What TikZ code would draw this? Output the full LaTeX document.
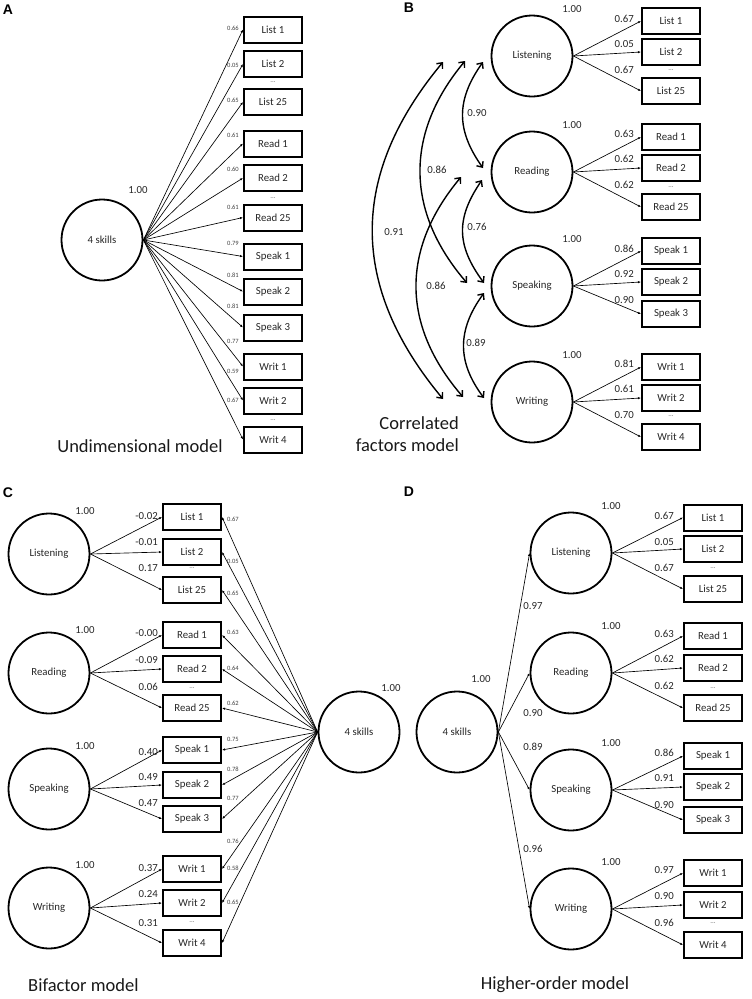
\documentclass[tikz,border=0pt]{standalone}
\usepackage{fontspec}
\setmainfont{Carlito}
\newfontfamily\panelfont{Liberation Sans}
\usetikzlibrary{arrows.meta}
\newcommand{\myfs}[1]{\fontsize{#1}{#1}\selectfont}
\begin{document}
\begin{tikzpicture}[x=1pt,y=-1pt,
 box/.style={draw, line width=2pt, minimum width=58pt, minimum height=26pt, inner sep=0pt, font=\myfs{10.8}, text=black!85},
 lat/.style={circle, draw, line width=1.8pt, minimum size=81pt, inner sep=0pt, font=\myfs{10.8}, text=black!85},
 ld/.style={-{Latex[length=3pt,width=2.4pt]}, line width=0.65pt},
 num/.style={font=\myfs{10.8}, inner sep=0pt, text=black!85},
 sm/.style={font=\myfs{6.5}, inner sep=0pt, text=black!75},
 dots/.style={font=\myfs{7}, inner sep=0pt, text=black!60},
 corr/.style={{Straight Barb[length=4.5pt,width=8pt]}-{Straight Barb[length=4.5pt,width=8pt]}, line width=1.4pt},
 title/.style={font=\fontsize{18.5}{22}\selectfont, inner sep=0pt, text=black!90},
 panel/.style={font=\panelfont\bfseries\myfs{14}, inner sep=0pt}]
\useasboundingbox (0,0) rectangle (752,999);

% ---------------- Panel A ----------------
\node[panel] (pA) at (8,10) {A};
\node[lat] (a4) at (102,240) {4 skills};
\node[num] (a4v) at (138,190) {1.00};
\foreach \n/\t/\y in {L1/List 1/29.5, L2/List 2/64, L25/List 25/102, R1/Read 1/143.5, R2/Read 2/178, R25/Read 25/217.5, S1/Speak 1/256.5, S2/Speak 2/291.5, S3/Speak 3/327.5, W1/Writ 1/366.5, W2/Writ 2/400.5, W4/Writ 4/439.5}
  \node[box] (a\n) at (273,\y) {\t};
\foreach \y [count=\i] in {82,198,420} \node[dots] (ad\i) at (273,\y) {...};
\foreach \n in {L1,L2,L25,R1,R2,R25,S1,S2,S3,W1,W2,W4}
  \draw[ld] (a4.east) -- (a\n.west);
\foreach \v/\y [count=\i] in {0.66/28,0.05/65,0.65/100,0.61/135,0.60/169,0.61/207,0.79/243,0.81/275,0.81/306,0.77/341,0.59/371,0.67/400}
  \node[sm] (al\i) at (233,\y) {\v};
\node[title] (tA) at (140,446) {Undimensional model};

% ---------------- Panel B ----------------
\node[panel] (pB) at (409,8) {B};
\foreach \n/\t/\y in {L/Listening/56, R/Reading/172, S/Speaking/286, W/Writing/402}{
  \node[lat] (b\n) at (532,\y) {\t};
  \node[num] (b\n v) at (572,\y-47) {1.00};
}
\foreach \f/\n/\t/\y in {L/L1/List 1/21, L/L2/List 2/52, L/L25/List 25/91, R/R1/Read 1/137, R/R2/Read 2/168, R/R25/Read 25/207, S/S1/Speak 1/251, S/S2/Speak 2/282, S/S3/Speak 3/314, W/W1/Writ 1/367, W/W2/Writ 2/398, W/W4/Writ 4/437}{
  \node[box] (b\n) at (671,\y) {\t};
  \draw[ld] (b\f.east) -- (b\n.west);
}
\foreach \y [count=\i] in {70,187,416} \node[dots] (bd\i) at (671,\y) {...};
\foreach \v/\y [count=\i] in {0.67/19,0.05/44,0.67/70,0.63/134,0.62/159,0.62/185,0.86/249,0.92/274,0.90/300,0.81/364,0.61/389,0.70/415}
  \node[num, anchor=east] (bl\i) at (634,\y) {\v};
% correlation end points
\coordinate (lw1) at (443,62);  \coordinate (lw2) at (443,399);
\coordinate (ls1) at (465,61);  \coordinate (ls2) at (467,283);
\coordinate (rw1) at (461,177); \coordinate (rw2) at (463,397);
\coordinate (lr1) at (483,62);  \coordinate (lr2) at (483,168);
\coordinate (rs1) at (482,180); \coordinate (rs2) at (484,283);
\coordinate (sw1) at (484,293); \coordinate (sw2) at (484,398);
\draw[corr] (lw1) .. controls (349,175) and (349,286) .. (lw2);
\draw[corr] (ls1) .. controls (405,133) and (405,211) .. (ls2);
\draw[corr] (rw1) .. controls (401,249) and (401,325) .. (rw2);
\draw[corr] (lr1) .. controls (456,100) and (456,130) .. (lr2);
\draw[corr] (rs1) .. controls (456,218) and (456,245) .. (rs2);
\draw[corr] (sw1) .. controls (457,330) and (457,362) .. (sw2);
\node[num] (c91) at (394,232) {0.91};
\node[num] (c86a) at (437,170) {0.86};
\node[num] (c86b) at (436,286) {0.86};
\node[num] (c90) at (477,113) {0.90};
\node[num] (c76) at (477,227) {0.76};
\node[num] (c89) at (476,343) {0.89};
\node[title, align=right, anchor=east] (tB) at (459,434) {Correlated\\factors model};

% ---------------- Panel C ----------------
\node[panel] (pC) at (8,493) {C};
\foreach \n/\t/\y in {L/Listening/554, R/Reading/673, S/Speaking/789, W/Writing/908}{
  \node[lat] (c\n) at (49,\y) {\t};
  \node[num] (c\n v) at (85,\y-43) {1.00};
}
\node[lat] (c4) at (359,732) {4 skills};
\node[num] (c4v) at (391,688) {1.00};
\foreach \f/\n/\t/\y in {L/L1/List 1/517, L/L2/List 2/552, L/L25/List 25/590, R/R1/Read 1/635, R/R2/Read 2/669, R/R25/Read 25/708, S/S1/Speak 1/750, S/S2/Speak 2/785, S/S3/Speak 3/819, W/W1/Writ 1/869, W/W2/Writ 2/903, W/W4/Writ 4/943}{
  \node[box] (c\n) at (192,\y) {\t};
  \draw[ld] (c\f.east) -- (c\n.west);
  \draw[ld] (c4.west) -- (c\n.east);
}
\foreach \y [count=\i] in {568,688,922} \node[dots] (cd\i) at (192,\y) {...};
\foreach \v/\y [count=\i] in {-0.02/516,-0.01/542,0.17/568,-0.00/633,-0.09/660,0.06/687,0.40/752,0.49/777,0.47/803,0.37/868,0.24/894,0.31/923}
  \node[num, anchor=east] (cl\i) at (158,\y) {\v};
\foreach \v/\y [count=\i] in {0.67/519,0.05/561,0.65/593,0.63/632,0.64/668,0.62/703,0.75/739,0.78/769,0.77/798,0.76/841,0.58/868,0.65/902}
  \node[sm, anchor=west] (cr\i) at (227,\y) {\v};
\node[title, anchor=west] (tC) at (28,985) {Bifactor model};

% ---------------- Panel D ----------------
\node[panel] (pD) at (409,492) {D};
\node[lat] (d4) at (457,732) {4 skills};
\node[num] (d4v) at (481,679) {1.00};
\foreach \n/\t/\y in {L/Listening/553, R/Reading/673, S/Speaking/790, W/Writing/909}{
  \node[lat] (d\n) at (571,\y) {\t};
  \node[num] (d\n v) at (611,\y-47) {1.00};
  \draw[ld] (d4.east) -- (d\n.west);
}
\foreach \f/\n/\t/\y in {L/L1/List 1/517.5, L/L2/List 2/549, L/L25/List 25/589, R/R1/Read 1/636, R/R2/Read 2/668, R/R25/Read 25/708, S/S1/Speak 1/756, S/S2/Speak 2/787, S/S3/Speak 3/820, W/W1/Writ 1/873, W/W2/Writ 2/905, W/W4/Writ 4/945}{
  \node[box] (d\n) at (713,\y) {\t};
  \draw[ld] (d\f.east) -- (d\n.west);
}
\foreach \y [count=\i] in {568,688,923} \node[dots] (dd\i) at (713,\y) {...};
\foreach \v/\y [count=\i] in {0.67/516,0.05/542,0.67/568,0.63/634,0.62/659,0.62/686,0.86/753,0.91/778,0.90/805,0.97/870,0.90/896,0.96/923}
  \node[num, anchor=east] (dl\i) at (674,\y) {\v};
\node[num] (h97) at (533,606) {0.97};
\node[num] (h90) at (533,713) {0.90};
\node[num] (h89) at (533,747) {0.89};
\node[num] (h96) at (533,849) {0.96};
\node[title] (tD) at (555,985) {Higher-order model};
\end{tikzpicture}
\end{document}
